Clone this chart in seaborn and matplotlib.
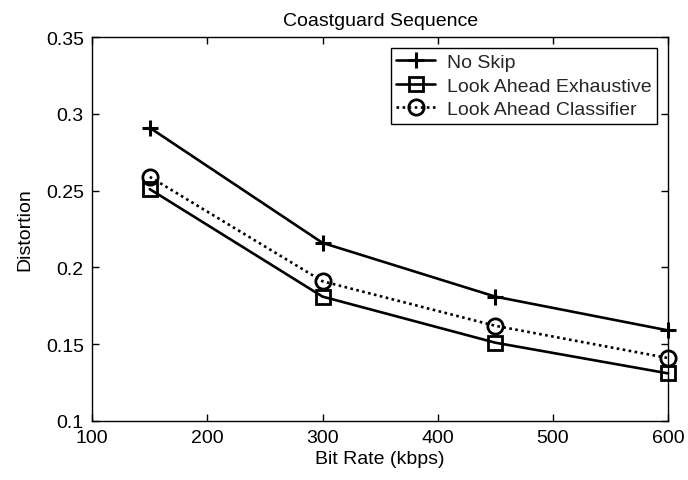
import matplotlib
matplotlib.use("Agg")
import matplotlib.pyplot as plt
import seaborn as sns
import pandas as pd

bit_rate = [150, 300, 450, 600]
no_skip = [0.291, 0.216, 0.181, 0.159]
la_exhaustive = [0.251, 0.181, 0.151, 0.131]
la_classifier = [0.259, 0.191, 0.162, 0.141]
series_names = ["No Skip", "Look Ahead Exhaustive", "Look Ahead Classifier"]

df = pd.DataFrame({
    "Bit Rate": bit_rate * 3,
    "Distortion": no_skip + la_exhaustive + la_classifier,
    "Series": [series_names[0]] * 4 + [series_names[1]] * 4 + [series_names[2]] * 4,
})

sns.set_theme(style="white")
plt.rcParams["font.family"] = ["Liberation Sans", "DejaVu Sans"]

FS = 14
fig = plt.figure(figsize=(6.88, 4.81), dpi=100)
ax = fig.add_axes([0.134, 0.1227, 0.837, 0.798])

styles = {
    series_names[0]: dict(marker="+", linestyle="-", markersize=12, markeredgewidth=2.2,
                          markeredgecolor="black", markerfacecolor="black"),
    series_names[1]: dict(marker="s", linestyle="-", markersize=10, markeredgewidth=2,
                          markeredgecolor="black", markerfacecolor="none"),
    series_names[2]: dict(marker="o", linestyle=(0, (1, 1.3)), markersize=11, markeredgewidth=2,
                          markeredgecolor="black", markerfacecolor="none"),
}
for name in series_names:
    sub = df[df["Series"] == name]
    sns.lineplot(data=sub, x="Bit Rate", y="Distortion", ax=ax, color="black",
                 linewidth=1.9, label=name, clip_on=False, zorder=3, **styles[name])

ax.set_xlim(100, 600)
ax.set_ylim(0.1, 0.35)
ax.set_xticks([100, 200, 300, 400, 500, 600])
ax.set_yticks([0.1, 0.15, 0.2, 0.25, 0.3, 0.35])
ax.set_yticklabels(["0.1", "0.15", "0.2", "0.25", "0.3", "0.35"])
ax.tick_params(direction="in", length=5, width=1, labelsize=FS, colors="black",
               top=True, right=True, bottom=True, left=True)
ax.tick_params(axis="x", pad=6)
ax.tick_params(axis="y", pad=6)
for s in ax.spines.values():
    s.set_color("black")
    s.set_linewidth(1)
ax.set_xlabel("Bit Rate (kbps)", fontsize=FS, color="black", labelpad=3)
ax.set_ylabel("Distortion", fontsize=FS, color="black", labelpad=9)
ax.set_title("Coastguard Sequence", fontsize=FS, color="black", pad=9)

leg = ax.legend(loc="upper right", fontsize=FS, frameon=True, fancybox=False,
                edgecolor="black", framealpha=1, borderpad=0.3, labelspacing=0.3,
                handlelength=2.0, handletextpad=0.6, borderaxespad=0.55)
leg.get_frame().set_linewidth(1)
leg.set_zorder(5)

fig.savefig("out.png", dpi=100)
